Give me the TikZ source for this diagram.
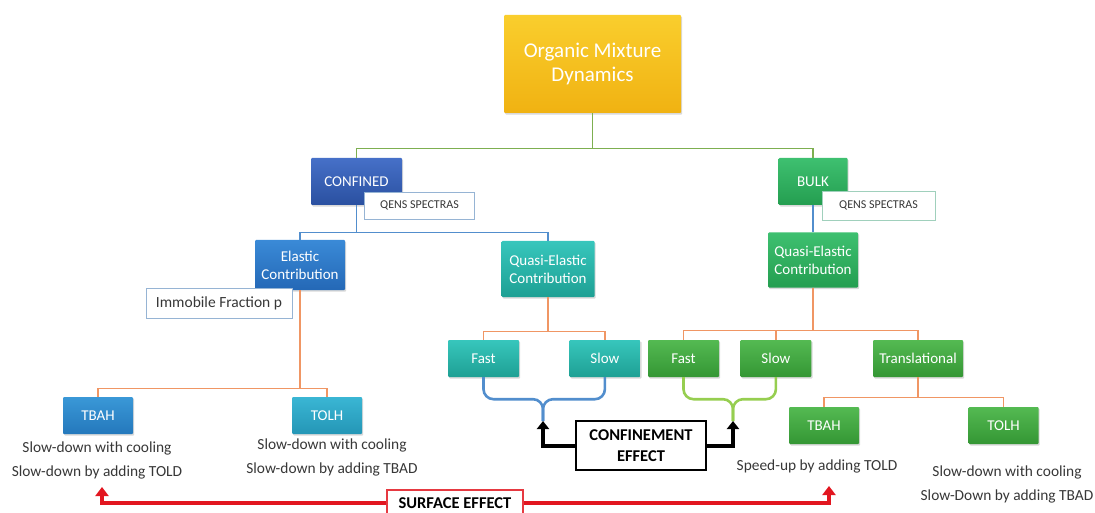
\documentclass[tikz,border=0pt]{standalone}
\usepackage{fontspec}
\setmainfont{Carlito}
\usetikzlibrary{
  arrows.meta,
  positioning,
  shadows,
  calc
}
\definecolor{goldtop}{RGB}{250,206,45}
\definecolor{goldbot}{RGB}{240,178,18}
\definecolor{conftop}{RGB}{70,112,200}
\definecolor{confbot}{RGB}{42,80,160}
\definecolor{elastop}{RGB}{58,138,215}
\definecolor{elasbot}{RGB}{36,104,182}
\definecolor{tbahtop}{RGB}{58,152,215}
\definecolor{tbahbot}{RGB}{36,120,188}
\definecolor{tolhtop}{RGB}{58,182,212}
\definecolor{tolhbot}{RGB}{36,150,182}
\definecolor{tealtop}{RGB}{55,198,188}
\definecolor{tealbot}{RGB}{30,160,148}
\definecolor{bulktop}{RGB}{62,192,112}
\definecolor{bulkbot}{RGB}{36,158,80}
\definecolor{grntop}{RGB}{84,186,82}
\definecolor{grnbot}{RGB}{52,150,52}
\definecolor{linegreen}{RGB}{125,175,80}
\definecolor{lineblue}{RGB}{82,142,205}
\definecolor{lineorange}{RGB}{240,150,100}
\definecolor{bracegreen}{RGB}{150,206,80}
\definecolor{arrowred}{RGB}{226,22,32}
\definecolor{notegray}{RGB}{55,55,55}
\definecolor{qensblue}{RGB}{150,180,212}
\definecolor{qensgreen}{RGB}{160,208,188}

\begin{document}
\begin{tikzpicture}[x=1pt, y=-1pt,
  box/.style={rounded corners=1pt, text=white, align=center, inner sep=2pt,
    font=\fontsize{15}{18}\selectfont,
    drop shadow={opacity=0.3, shadow xshift=1.2pt, shadow yshift=-1.6pt}},
  small box/.style={box, minimum width=71pt, minimum height=37pt},
  tagbox/.style={draw=qensblue, fill=white, line width=0.8pt, text=notegray, inner sep=2pt},
  note/.style={text=notegray, align=center, font=\fontsize{15.4}{24}\selectfont},
  effectbox/.style={fill=white, line width=1.3pt, align=center, inner sep=2pt,
    font=\fontsize{16.5}{21}\selectfont\bfseries},
  greenline/.style={draw=linegreen, line width=1.3pt},
  blueline/.style={draw=lineblue, line width=1.3pt},
  orangeline/.style={draw=lineorange, line width=1.3pt},
  brace/.style={line width=2.6pt, rounded corners=10pt},
  blackarrow/.style={line width=4pt, -{Triangle[width=12pt,length=8pt]}},
  redarrow/.style={draw=arrowred, line width=4.5pt, -{Triangle[width=13pt,length=9pt]}}
]
  \useasboundingbox (0,0) rectangle (1095,513);

  % top of the tree
  \node[box, top color=goldtop, bottom color=goldbot, minimum width=177pt, minimum height=98pt,
    font=\fontsize{21}{24}\selectfont] (title) at (592.5,64) {Organic Mixture\\Dynamics};

  % confined branch
  \node[box, top color=conftop, bottom color=confbot, minimum width=91pt, minimum height=47pt] (confined) at (356.5,181.5) {CONFINED};
  \node[tagbox, font=\fontsize{12}{14}\selectfont, minimum width=110pt, minimum height=27pt] (qensc) at (419.5,205.5) {QENS SPECTRAS};
  \node[box, top color=elastop, bottom color=elasbot, minimum width=90pt, minimum height=50pt] (elastic) at (300,265) {Elastic\\Contribution};
  \node[box, top color=tealtop, bottom color=tealbot, minimum width=93pt, minimum height=56pt] (qeconf) at (548,269) {Quasi-Elastic\\Contribution};
  \node[tagbox, font=\fontsize{15.5}{18}\selectfont, minimum width=146pt, minimum height=30pt] (immob) at (219,303) {Immobile Fraction p};
  \node[small box, top color=tbahtop, bottom color=tbahbot, minimum width=70pt] (tbahc) at (98,415.5) {TBAH};
  \node[small box, top color=tolhtop, bottom color=tolhbot, minimum width=70pt] (tolhc) at (327,415.5) {TOLH};
  \node[small box, top color=tealtop, bottom color=tealbot] (fastc) at (483.5,358.5) {Fast};
  \node[small box, top color=tealtop, bottom color=tealbot, right=50pt of fastc] (slowc) {Slow};

  % bulk branch
  \node[box, top color=bulktop, bottom color=bulkbot, minimum width=69pt, minimum height=47pt] (bulk) at (813,181.5) {BULK};
  \node[tagbox, draw=qensgreen, font=\fontsize{12}{14}\selectfont, minimum width=113pt, minimum height=29pt] (qensb) at (878.5,205.5) {QENS SPECTRAS};
  \node[box, top color=bulktop, bottom color=bulkbot, minimum width=90pt, minimum height=55pt] (qebulk) at (813,260) {Quasi-Elastic\\Contribution};
  \node[small box, top color=grntop, bottom color=grnbot] (fastb) at (683.5,358.5) {Fast};
  \node[small box, top color=grntop, bottom color=grnbot, right=21pt of fastb] (slowb) {Slow};
  \node[small box, top color=grntop, bottom color=grnbot, minimum width=90pt] (trans) at (918,358.5) {Translational};
  \node[small box, top color=grntop, bottom color=grnbot, minimum width=70pt] (tbahb) at (824,425.5) {TBAH};
  \node[small box, top color=grntop, bottom color=grnbot, minimum width=70pt] (tolhb) at (1003.5,425.5) {TOLH};

  % notes
  \node[note] (tbahcnote) at (97,460) {Slow-down with cooling\\Slow-down by adding TOLD};
  \node[note] (tolhcnote) at (332,457) {Slow-down with cooling\\Slow-down by adding TBAD};
  \node[note] (tbahbnote) at (817,466) {Speed-up by adding TOLD};
  \node[note] (tolhbnote) at (1007,484) {Slow-down with cooling\\Slow-Down by adding TBAD};

  % effects
  \node[effectbox, draw=black, minimum width=130pt, minimum height=49pt] (confeff) at (641,445.5) {CONFINEMENT\\EFFECT};
  \node[effectbox, draw=arrowred!85!white, minimum width=136pt, minimum height=26pt] (surface) at (455,503) {SURFACE EFFECT};

  % tree lines
  \draw[greenline] (title.south) -- ++(0,35) -| (confined.north);
  \draw[greenline] (title.south) -- ++(0,35) -| (bulk.north);
  \draw[blueline] (confined.south) -- ++(0,27) -| (elastic.north);
  \draw[blueline] (confined.south) -- ++(0,27) -| (qeconf.north);
  \draw[blueline] (bulk.south) -- (qebulk.north);
  \draw[orangeline] (elastic.south) -- ++(0,98) -| (tbahc.north);
  \draw[orangeline] (elastic.south) -- ++(0,98) -| (tolhc.north);
  \draw[orangeline] (qeconf.south) -- ++(0,34) -| (fastc.north);
  \draw[orangeline] (qeconf.south) -- ++(0,34) -| (slowc.north);
  \draw[orangeline] (qebulk.south) -- ++(0,43) -| (fastb.north);
  \draw[orangeline] (qebulk.south) -- ++(0,43) -| (slowb.north);
  \draw[orangeline] (qebulk.south) -- ++(0,43) -| (trans.north);
  \draw[orangeline] (trans.south) -- ++(0,20) -| (tbahb.north);
  \draw[orangeline] (trans.south) -- ++(0,20) -| (tolhb.north);

  % braces and effect arrows
  \coordinate (cmeet) at (543,421);
  \coordinate (gmeet) at (733,421);
  \draw[brace, lineblue] (fastc.south) -- ++(0,22) -| (cmeet);
  \draw[brace, lineblue] (slowc.south) -- ++(0,22) -| (cmeet);
  \draw[brace, bracegreen] (fastb.south) -- ++(0,22) -| (gmeet);
  \draw[brace, bracegreen] (slowb.south) -- ++(0,22) -| (gmeet);
  \draw[blackarrow] (confeff.west) -| (cmeet);
  \draw[blackarrow] (confeff.east) -| (gmeet);

  \coordinate (lsurf) at (102,487);
  \coordinate (rsurf) at (829,486);
  \draw[redarrow] (surface.west) -| (lsurf);
  \draw[redarrow] (surface.east) -| (rsurf);
\end{tikzpicture}
\end{document}
